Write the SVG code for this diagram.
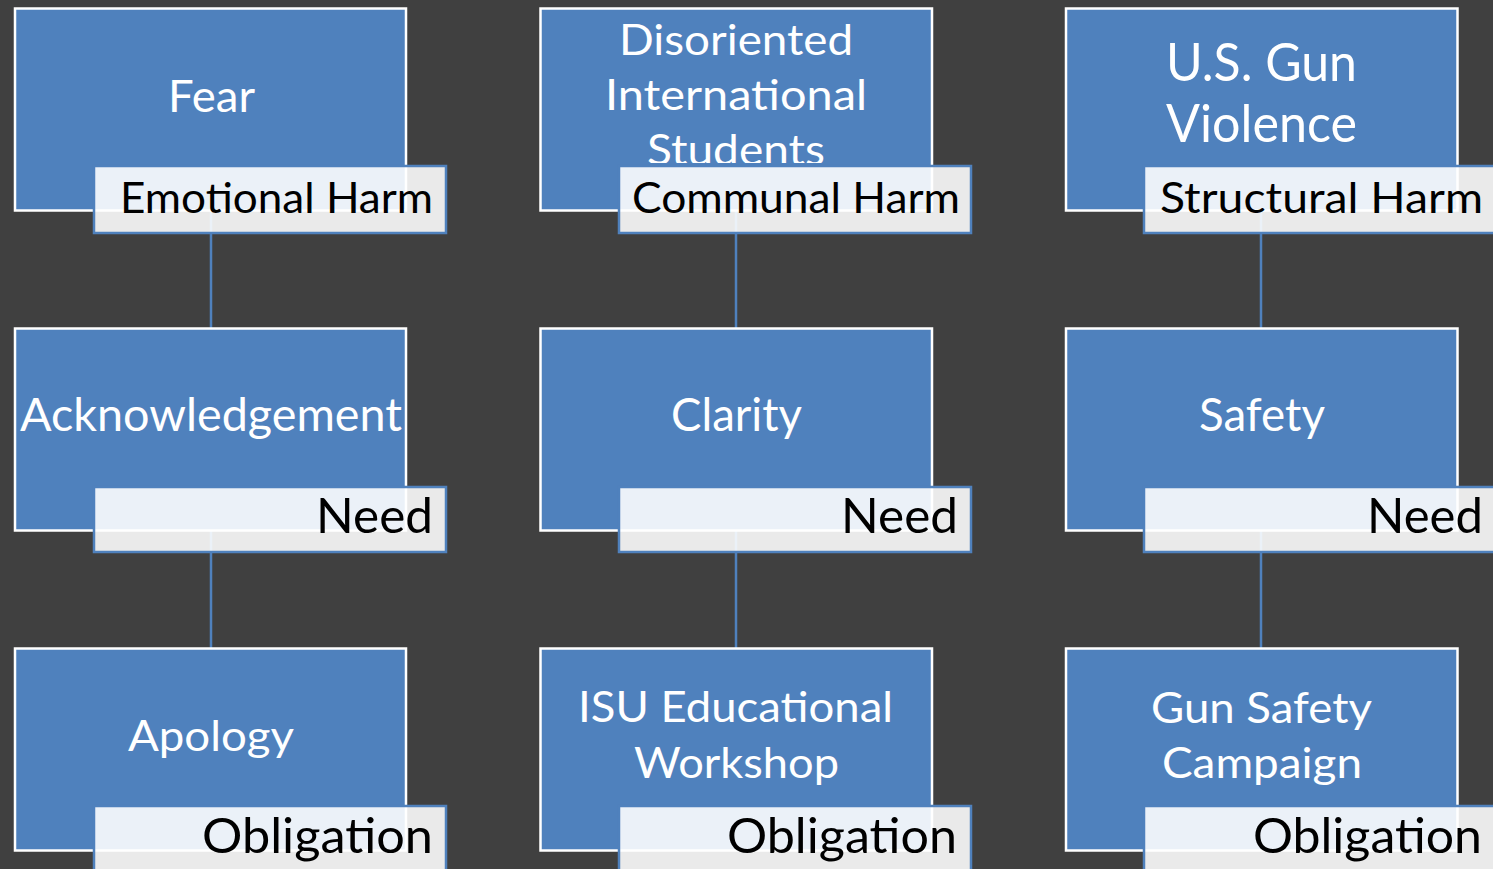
<svg xmlns="http://www.w3.org/2000/svg" width="1493" height="869" viewBox="0 0 1493 869">
<style>
.box{fill:#4F81BD;stroke:#FFFFFF;stroke-width:2.5}
.lbl{fill:#FFFFFF;fill-opacity:0.89;stroke:#4F81BD;stroke-width:2.5}
.t{font-family:Lato,"Open Sans","Liberation Sans",sans-serif;fill:#FFFFFF}
.lt{font-family:Lato,"Open Sans","Liberation Sans",sans-serif;fill:#000000}
.con{stroke:#4F81BD;stroke-width:2.5;fill:none}
</style>
<defs>
<clipPath id="clipStud"><rect x="540" y="8" width="393" height="155"/></clipPath>
</defs>
<rect x="0" y="0" width="1493" height="869" fill="#404040"/>
<g id="connectors">
<line class="con" x1="211" y1="210" x2="211" y2="328"/>
<line class="con" x1="211" y1="530" x2="211" y2="648"/>
<line class="con" x1="736" y1="210" x2="736" y2="328"/>
<line class="con" x1="736" y1="530" x2="736" y2="648"/>
<line class="con" x1="1261" y1="210" x2="1261" y2="328"/>
<line class="con" x1="1261" y1="530" x2="1261" y2="648"/>
</g>
<g id="node-fear">
<rect class="box" x="15" y="8.5" width="391" height="202"/>
<text class="t" x="168" y="112" font-size="44" textLength="87" lengthAdjust="spacingAndGlyphs">Fear</text>
<rect class="lbl" x="94" y="166" width="352" height="67"/>
<text class="lt" x="120" y="213" font-size="43" textLength="313" lengthAdjust="spacingAndGlyphs">Emotional Harm</text>
</g>
<g id="node-disoriented">
<rect class="box" x="540.5" y="8.5" width="391.5" height="202"/>
<text class="t" x="619" y="55" font-size="42" textLength="234" lengthAdjust="spacingAndGlyphs">Disoriented</text>
<text class="t" x="605" y="110" font-size="42" textLength="262" lengthAdjust="spacingAndGlyphs">International</text>
<text class="t" x="647" y="165" font-size="42" textLength="178" lengthAdjust="spacingAndGlyphs" clip-path="url(#clipStud)">Students</text>
<rect class="lbl" x="619" y="166" width="352" height="67"/>
<text class="lt" x="632" y="213" font-size="43" textLength="328" lengthAdjust="spacingAndGlyphs">Communal Harm</text>
</g>
<g id="node-gunviolence">
<rect class="box" x="1066" y="8.5" width="391.5" height="202"/>
<text class="t" x="1166" y="81" font-size="53" textLength="191" lengthAdjust="spacingAndGlyphs">U.S. Gun</text>
<text class="t" x="1166" y="142" font-size="53" textLength="191" lengthAdjust="spacingAndGlyphs">Violence</text>
<rect class="lbl" x="1144" y="166" width="360" height="67"/>
<text class="lt" x="1160" y="213" font-size="43" textLength="323" lengthAdjust="spacingAndGlyphs">Structural Harm</text>
</g>
<g id="node-acknowledgement">
<rect class="box" x="15" y="328.5" width="391" height="202"/>
<text class="t" x="20" y="431" font-size="46" textLength="382" lengthAdjust="spacingAndGlyphs">Acknowledgement</text>
<rect class="lbl" x="94" y="487" width="352" height="65"/>
<text class="lt" x="316" y="533" font-size="49" textLength="117" lengthAdjust="spacingAndGlyphs">Need</text>
</g>
<g id="node-clarity">
<rect class="box" x="540.5" y="328.5" width="391.5" height="202"/>
<text class="t" x="671" y="431" font-size="46" textLength="131" lengthAdjust="spacingAndGlyphs">Clarity</text>
<rect class="lbl" x="619" y="487" width="352" height="65"/>
<text class="lt" x="841" y="533" font-size="49" textLength="117" lengthAdjust="spacingAndGlyphs">Need</text>
</g>
<g id="node-safety">
<rect class="box" x="1066" y="328.5" width="391.5" height="202"/>
<text class="t" x="1199" y="431" font-size="46" textLength="126" lengthAdjust="spacingAndGlyphs">Safety</text>
<rect class="lbl" x="1144" y="487" width="360" height="65"/>
<text class="lt" x="1367" y="533" font-size="49" textLength="116" lengthAdjust="spacingAndGlyphs">Need</text>
</g>
<g id="node-apology">
<rect class="box" x="15" y="648.5" width="391" height="202"/>
<text class="t" x="128" y="751" font-size="43" textLength="166" lengthAdjust="spacingAndGlyphs">Apology</text>
<rect class="lbl" x="94" y="806" width="352" height="70"/>
<text class="lt" x="202" y="853" font-size="49" textLength="231" lengthAdjust="spacingAndGlyphs">Obligation</text>
</g>
<g id="node-workshop">
<rect class="box" x="540.5" y="648.5" width="391.5" height="202"/>
<text class="t" x="578" y="722" font-size="43" textLength="315" lengthAdjust="spacingAndGlyphs">ISU Educational</text>
<text class="t" x="634" y="778" font-size="43" textLength="205" lengthAdjust="spacingAndGlyphs">Workshop</text>
<rect class="lbl" x="619" y="806" width="352" height="70"/>
<text class="lt" x="727" y="853" font-size="49" textLength="230" lengthAdjust="spacingAndGlyphs">Obligation</text>
</g>
<g id="node-campaign">
<rect class="box" x="1066" y="648.5" width="391.5" height="202"/>
<text class="t" x="1151" y="723" font-size="43" textLength="221" lengthAdjust="spacingAndGlyphs">Gun Safety</text>
<text class="t" x="1162" y="778" font-size="43" textLength="200" lengthAdjust="spacingAndGlyphs">Campaign</text>
<rect class="lbl" x="1144" y="806" width="360" height="70"/>
<text class="lt" x="1253" y="853" font-size="49" textLength="229" lengthAdjust="spacingAndGlyphs">Obligation</text>
</g>
</svg>
